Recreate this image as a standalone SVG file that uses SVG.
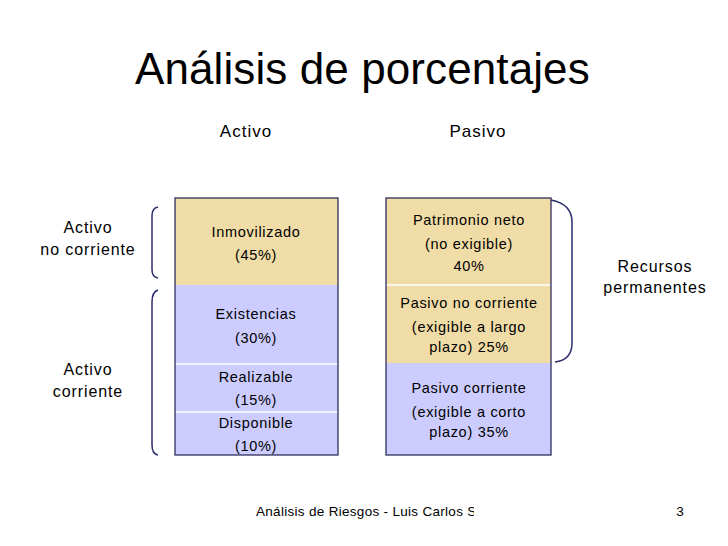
<svg xmlns="http://www.w3.org/2000/svg" width="728" height="546" viewBox="0 0 728 546">
<defs>
<style>
text{font-family:"Liberation Sans",Arial,sans-serif;fill:#000;text-anchor:middle}
.t{font-size:14.5px;letter-spacing:0.7px}
.h{font-size:17px;letter-spacing:1px}
.lbl{font-size:16px;letter-spacing:0.9px}
.tan{fill:#F0DCA6}
.lav{fill:#CCCCFF}
.sep{stroke:#FFFFFF;stroke-width:1.5}
.frame{fill:none;stroke:#2E2E5E;stroke-width:1.3}
.brace{fill:none;stroke:#2E2E6E;stroke-width:1.5}
</style>
<clipPath id="fc"><rect x="0" y="490" width="474" height="40"/></clipPath>
</defs>
<rect width="728" height="546" fill="#FFFFFF"/>
<text x="135" y="84" font-size="44" style="text-anchor:start;letter-spacing:0.1px">Análisis de porcentajes</text>
<text class="h" x="246" y="137">Activo</text>
<text class="h" x="478" y="137">Pasivo</text>

<g id="activo">
<rect class="tan" x="175" y="198" width="163" height="87"/>
<rect class="lav" x="175" y="285" width="163" height="170"/>
<line class="sep" x1="175" y1="364" x2="338" y2="364"/>
<line class="sep" x1="175" y1="412" x2="338" y2="412"/>
<rect class="frame" x="175" y="198" width="163" height="257"/>
<text class="t" x="256" y="237">Inmovilizado</text>
<text class="t" x="256" y="260">(45%)</text>
<text class="t" x="256" y="319">Existencias</text>
<text class="t" x="256" y="343">(30%)</text>
<text class="t" x="256" y="382">Realizable</text>
<text class="t" x="256" y="405">(15%)</text>
<text class="t" x="256" y="428">Disponible</text>
<text class="t" x="256" y="451">(10%)</text>
</g>

<g id="pasivo">
<rect class="tan" x="386" y="198" width="165" height="165"/>
<rect class="lav" x="386" y="363" width="165" height="92"/>
<line class="sep" x1="386" y1="285" x2="551" y2="285"/>
<rect class="frame" x="386" y="198" width="165" height="257"/>
<text class="t" x="469" y="225">Patrimonio neto</text>
<text class="t" x="469" y="249">(no exigible)</text>
<text class="t" x="469" y="271">40%</text>
<text class="t" x="469" y="308">Pasivo no corriente</text>
<text class="t" x="469" y="332">(exigible a largo</text>
<text class="t" x="469" y="352">plazo) 25%</text>
<text class="t" x="469" y="393">Pasivo corriente</text>
<text class="t" x="469" y="417">(exigible a corto</text>
<text class="t" x="469" y="437">plazo) 35%</text>
</g>

<g id="braces">
<path class="brace" d="M158,207 Q152,208 152,216 L152,270 Q152,277 158,278"/>
<path class="brace" d="M158,290 Q152,292 152,302 L152,445 Q152,454 158,455"/>
<path class="brace" d="M551,200 Q572,204 572,222 L572,343 Q572,360 555,362"/>
</g>

<g id="labels">
<text class="lbl" x="88" y="233">Activo</text>
<text class="lbl" x="88" y="255">no corriente</text>
<text class="lbl" x="88" y="375">Activo</text>
<text class="lbl" x="88" y="397">corriente</text>
<text class="lbl" x="655" y="272">Recursos</text>
<text class="lbl" x="655" y="293">permanentes</text>
</g>

<g id="footer">
<text x="256" y="516" font-size="13.5" clip-path="url(#fc)" style="text-anchor:start;letter-spacing:0.3px">Análisis de Riesgos - Luis Carlos Sánchez</text>
<text x="680" y="516" font-size="13.5">3</text>
</g>
</svg>
